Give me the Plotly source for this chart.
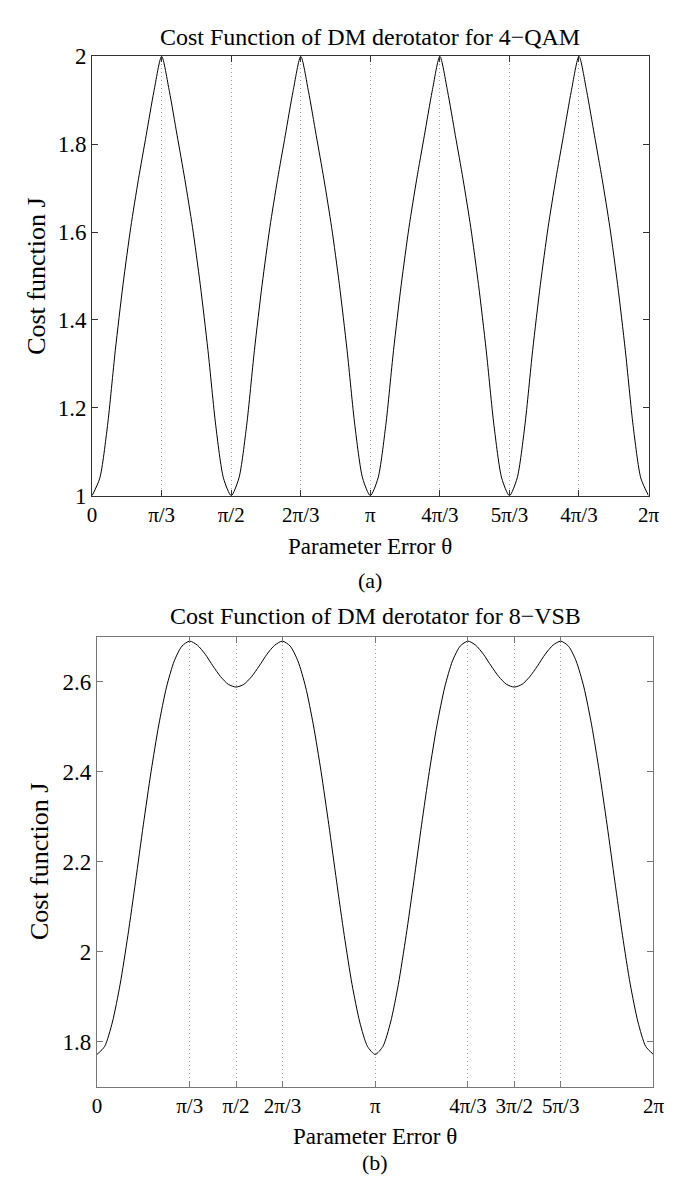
import math

import plotly.graph_objects as go

# sample angles, degrees (5 degree steps over one full turn)
THETA_DEG = list(range(0, 365, 5))

# (a) 4-QAM cost function
J_QAM = [
    1.00, 1.04, 1.16, 1.33, 1.48, 1.61, 1.72, 1.82, 1.92, 2.00,
    1.92, 1.82, 1.72, 1.61, 1.48, 1.33, 1.16, 1.04, 1.00,
    1.04, 1.16, 1.33, 1.48, 1.61, 1.72, 1.82, 1.92, 2.00,
    1.92, 1.82, 1.72, 1.61, 1.48, 1.33, 1.16, 1.04, 1.00,
    1.04, 1.16, 1.33, 1.48, 1.61, 1.72, 1.82, 1.92, 2.00,
    1.92, 1.82, 1.72, 1.61, 1.48, 1.33, 1.16, 1.04, 1.00,
    1.04, 1.16, 1.33, 1.48, 1.61, 1.72, 1.82, 1.92, 2.00,
    1.92, 1.82, 1.72, 1.61, 1.48, 1.33, 1.16, 1.04, 1.00,
]

# (b) 8-VSB cost function
J_VSB = [
    1.772, 1.790, 1.844, 1.928, 2.036, 2.157, 2.282, 2.400, 2.504, 2.588,
    2.646, 2.679, 2.690, 2.681, 2.661, 2.635, 2.611, 2.594, 2.588, 2.594,
    2.611, 2.635, 2.661, 2.681, 2.690, 2.679, 2.646, 2.588, 2.504, 2.400,
    2.282, 2.157, 2.036, 1.928, 1.844, 1.790, 1.772,
    1.790, 1.844, 1.928, 2.036, 2.157, 2.282, 2.400, 2.504, 2.588,
    2.646, 2.679, 2.690, 2.681, 2.661, 2.635, 2.611, 2.594, 2.588, 2.594,
    2.611, 2.635, 2.661, 2.681, 2.690, 2.679, 2.646, 2.588, 2.504, 2.400,
    2.282, 2.157, 2.036, 1.928, 1.844, 1.790, 1.772,
]

# tick positions (multiples of pi) and labels as printed
QAM_TICK_POS = [0, 0.25, 0.5, 0.75, 1.0, 1.25, 1.5, 1.75, 2.0]
QAM_TICK_TEXT = ["0", "π/3", "π/2", "2π/3", "π", "4π/3", "5π/3", "4π/3", "2π"]
VSB_TICK_POS = [0, 1 / 3, 0.5, 2 / 3, 1.0, 4 / 3, 1.5, 5 / 3, 2.0]
VSB_TICK_TEXT = ["0", "π/3", "π/2", "2π/3", "π", "4π/3", "3π/2", "5π/3", "2π"]

QAM_Y_TICKS = [1, 1.2, 1.4, 1.6, 1.8, 2]
QAM_Y_TEXT = ["1", "1.2", "1.4", "1.6", "1.8", "2"]
VSB_Y_TICKS = [1.8, 2, 2.2, 2.4, 2.6]
VSB_Y_TEXT = ["1.8", "2", "2.2", "2.4", "2.6"]

FONT = "Liberation Serif"
W, H = 674, 1178

theta = [math.radians(d) for d in THETA_DEG]

fig = go.Figure()
fig.add_trace(go.Scatter(x=theta, y=J_QAM, mode="lines",
                         line=dict(color="black", width=1, shape="spline", smoothing=0.7),
                         xaxis="x", yaxis="y"))
fig.add_trace(go.Scatter(x=theta, y=J_VSB, mode="lines",
                         line=dict(color="black", width=1, shape="spline", smoothing=0.7),
                         xaxis="x2", yaxis="y2"))


def xaxis(domain, pos, text, anchor, color):
    return dict(
        domain=domain, anchor=anchor, range=[0, 2 * math.pi],
        tickvals=[p * math.pi for p in pos], ticktext=text,
        ticks="inside", ticklen=6, tickcolor=color,
        showline=True, linecolor=color, linewidth=1, mirror="ticks",
        showgrid=True, gridcolor="#a0a0a0", griddash="1px,3px", gridwidth=1,
        zeroline=False, tickfont=dict(family=FONT, size=21, color="black"),
        fixedrange=True,
    )


def yaxis(domain, rng, vals, text, anchor, color):
    return dict(
        domain=domain, anchor=anchor, range=rng,
        tickvals=vals, ticktext=text,
        ticks="inside", ticklen=6, tickcolor=color,
        showline=True, linecolor=color, linewidth=1, mirror="ticks",
        showgrid=False, zeroline=False,
        tickfont=dict(family=FONT, size=23, color="black"),
        fixedrange=True,
    )


def px_x(v):
    return v / W


def px_y(v):
    return 1 - v / H


fig.update_layout(
    width=W, height=H,
    margin=dict(l=0, r=0, t=0, b=0),
    paper_bgcolor="white", plot_bgcolor="white",
    showlegend=False,
    xaxis=xaxis([px_x(81), px_x(651)], QAM_TICK_POS, QAM_TICK_TEXT, "y", "#333333"),
    yaxis=yaxis([px_y(486), px_y(37)], [1, 2], QAM_Y_TICKS, QAM_Y_TEXT, "x", "#333333"),
    xaxis2=xaxis([px_x(86), px_x(656)], VSB_TICK_POS, VSB_TICK_TEXT, "y2", "#777777"),
    yaxis2=yaxis([px_y(1090), px_y(630)], [1.7, 2.7], VSB_Y_TICKS, VSB_Y_TEXT, "x2", "#777777"),
)

labels = [
    ("Cost Function of DM derotator for 4\u2212QAM", 366, 17, 24, 0),
    ("Parameter Error θ", 366, 538, 23, 0),
    ("(a)", 366, 573, 22, 0),
    ("Cost Function of DM derotator for 8\u2212VSB", 371, 609, 24, 0),
    ("Parameter Error θ", 371, 1141, 23, 0),
    ("(b)", 371, 1167, 22, 0),
    ("Cost function J", 24, 262, 26, -90),
    ("Cost function J", 27, 860, 26, -90),
]
for text, x, y, size, angle in labels:
    fig.add_annotation(text=text, x=px_x(x), y=px_y(y), xref="paper", yref="paper",
                       showarrow=False, xanchor="center", yanchor="middle", textangle=angle,
                       font=dict(family=FONT, size=size, color="black"))

fig.write_html("out.html")
